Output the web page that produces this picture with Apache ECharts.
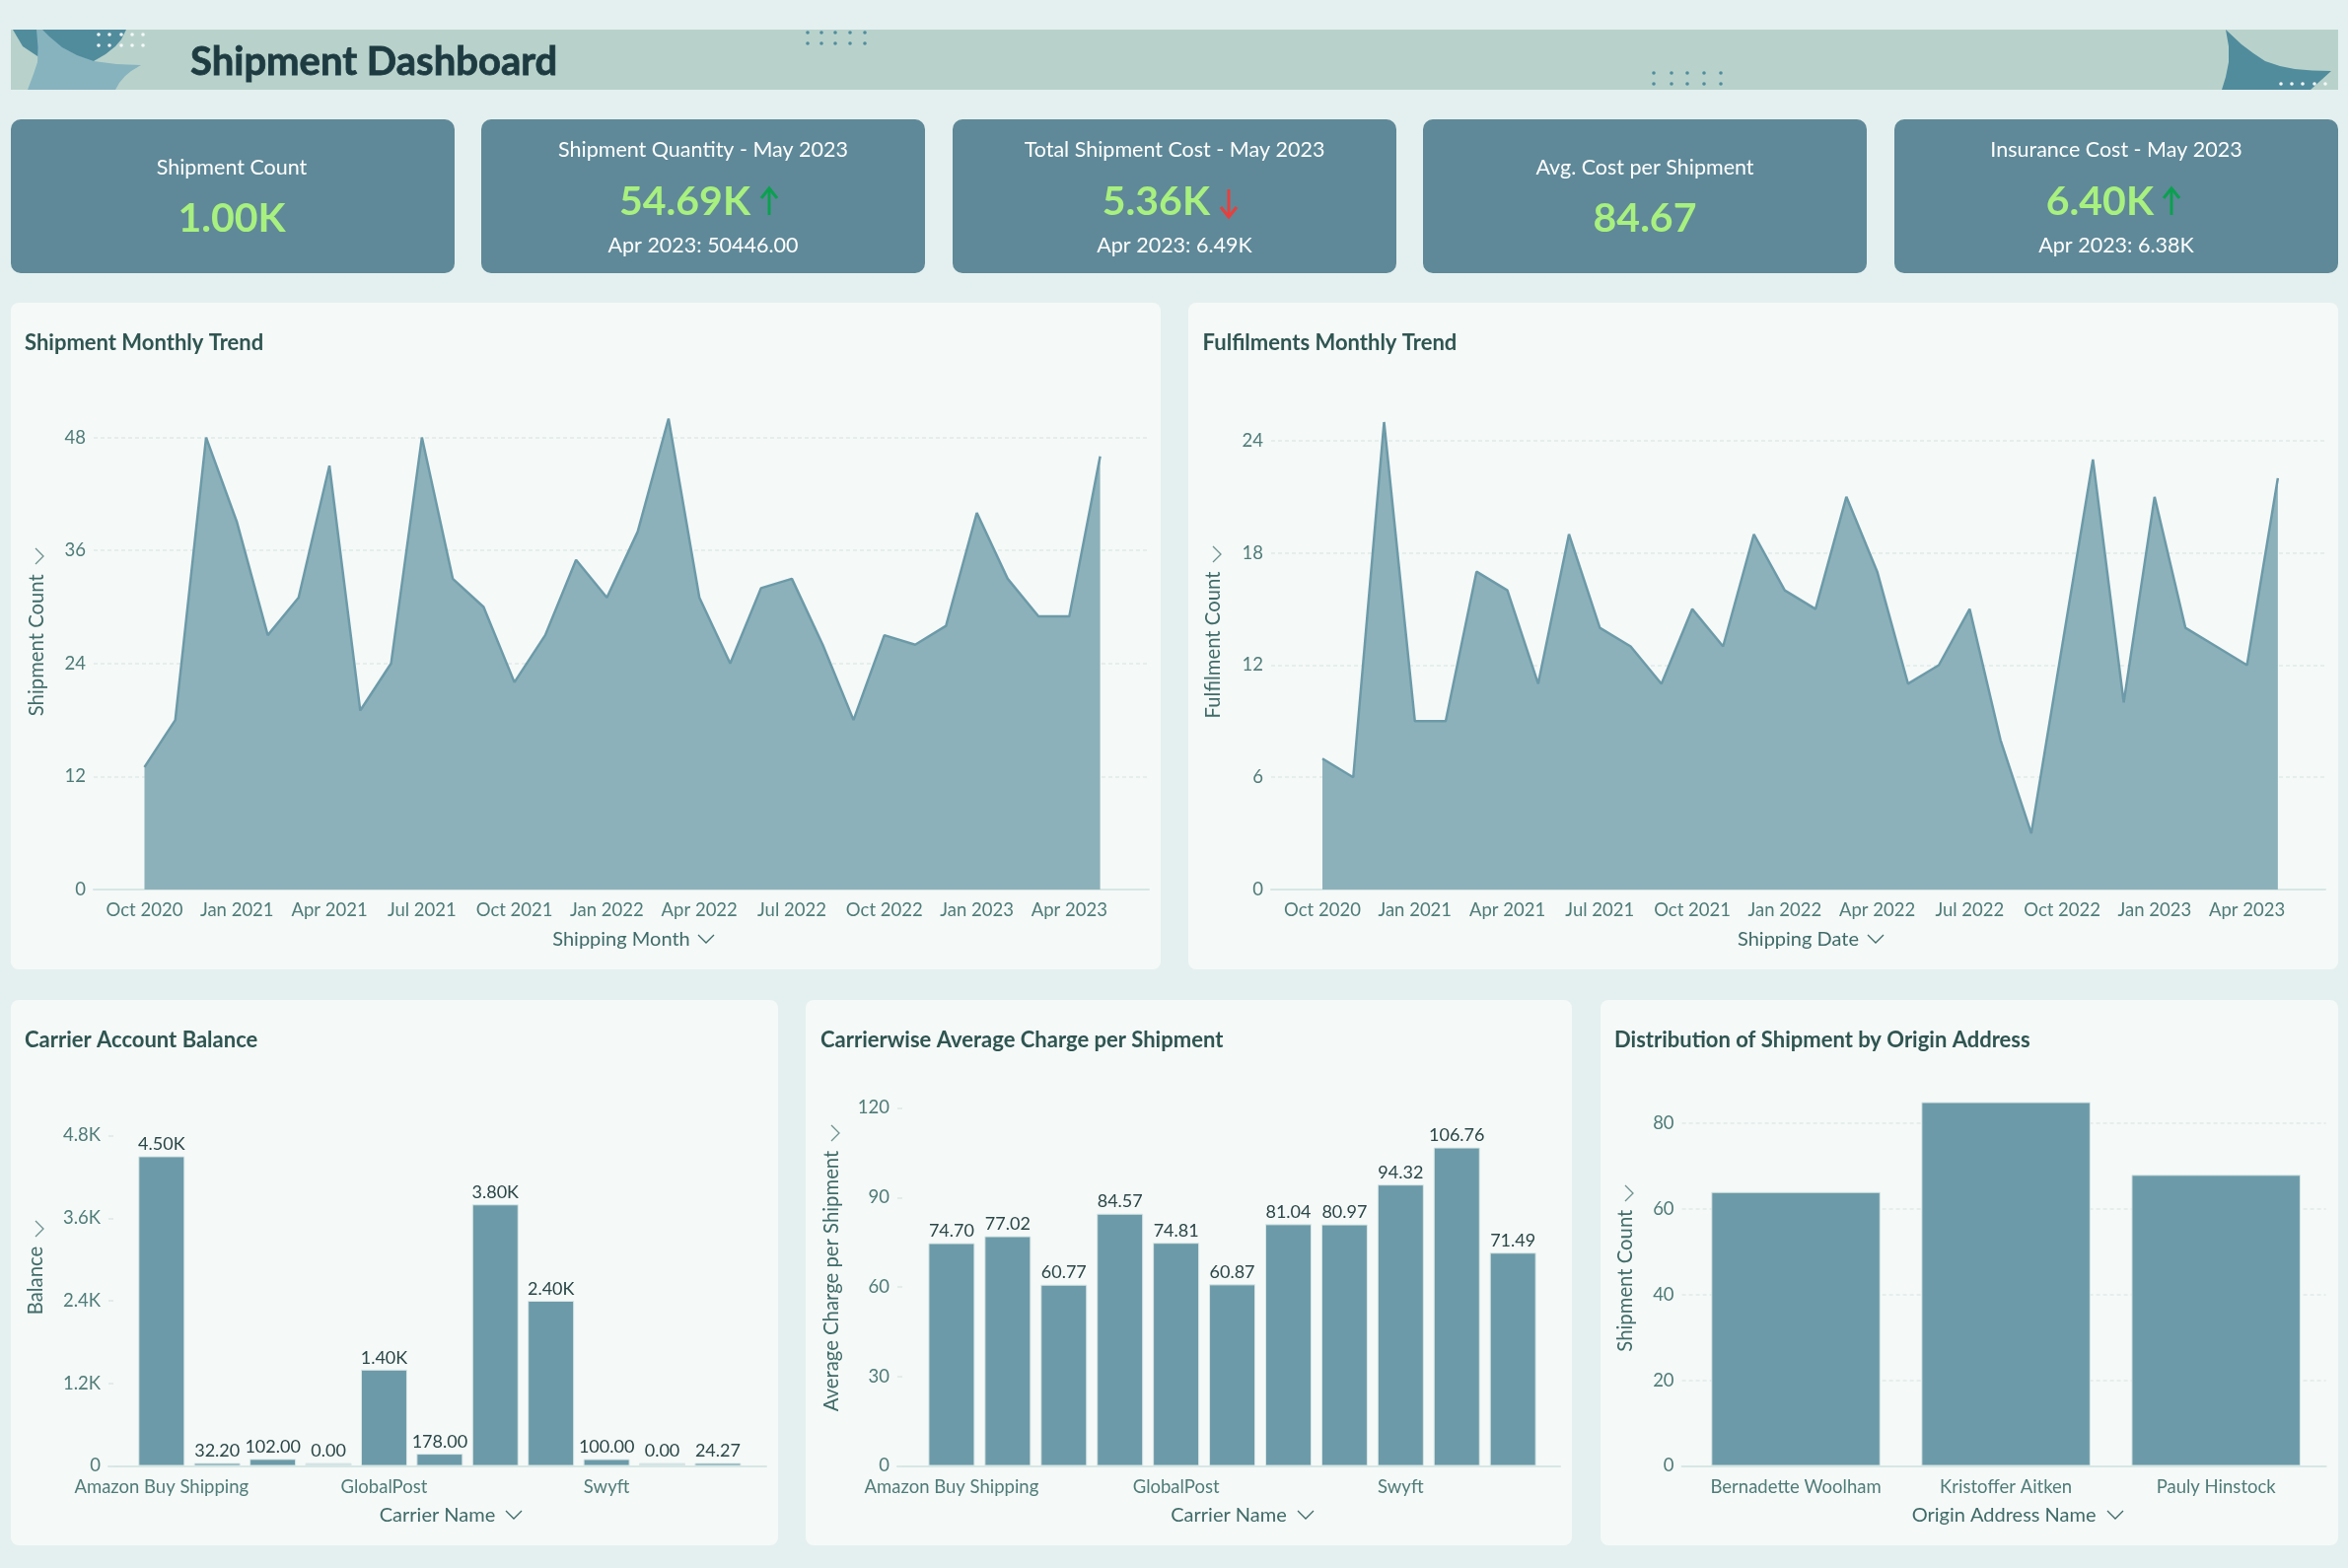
<!DOCTYPE html>
<html><head><meta charset="utf-8">
<style>html,body{margin:0;padding:0;background:#E4F0EF}#c{width:2381px;height:1590px}</style>
<script src="https://cdn.jsdelivr.net/npm/echarts@6/dist/echarts.min.js"></script>
</head><body><div id="c"></div>
<script>
const months = ["Oct 2020","Nov 2020","Dec 2020","Jan 2021","Feb 2021","Mar 2021","Apr 2021","May 2021","Jun 2021","Jul 2021","Aug 2021","Sep 2021","Oct 2021","Nov 2021","Dec 2021","Jan 2022","Feb 2022","Mar 2022","Apr 2022","May 2022","Jun 2022","Jul 2022","Aug 2022","Sep 2022","Oct 2022","Nov 2022","Dec 2022","Jan 2023","Feb 2023","Mar 2023","Apr 2023","May 2023"];
const shipmentCounts = [13,18,48,39,27,31,45,19,24,48,33,30,22,27,35,31,38,50,31,24,32,33,26,18,27,26,28,40,33,29,29,46];
const fulfilmentCounts = [7,6,25,9,9,17,16,11,19,14,13,11,15,13,19,16,15,21,17,11,12,15,8,3,13,23,10,21,14,13,12,22];
const carrierTicks = ["Amazon Buy Shipping","","","","GlobalPost","","","","Swyft","",""];
const balances = [4500,32.2,102,0,1400,178,3800,2400,100,0,24.27];
const avgCharges = [74.70,77.02,60.77,84.57,74.81,60.87,81.04,80.97,94.32,106.76,71.49];
const origins = ["Bernadette Woolham","Kristoffer Aitken","Pauly Hinstock"];
const originCounts = [64,85,68];
const monthTickIdx = [0,3,6,9,12,15,18,21,24,27,30];
const carrierTickIdx = [0,4,8];
const originTickIdx = [0,1,2];

const FONT='Lato';
const C={bg:'#E4F0EF',banner:'#B8D2CB',card:'#5F8998',panel:'#F5F9F8',bar:'#6C9AA8',area:'#8DB1BA',line:'#6C9AA8',title:'#2F5551',tick:'#4F7C78',name:'#3F6B68',val:'#2B4747',axis:'#D6E7E4',grid:'#E0EAE8',green:'#A8F07F',up:'#0CA050',down:'#E5403F'};

function rr(x,y,w,h,fill,r){return {type:'rect',z:-2,shape:{x,y,width:w,height:h,r:r||0},style:{fill},silent:true};}
function poly(points,fill){return {type:'polygon',z:-1,shape:{points},style:{fill},silent:true};}
function txt(text,x,y,size,fill,weight,align,stroke){return {type:'text',z:3,x,y,style:Object.assign({text,x:0,y:0,fill,font:(weight||'400')+' '+size+'px '+FONT,textAlign:align||'center',textVerticalAlign:'middle'},stroke?{stroke:fill,lineWidth:stroke}:{}),silent:true};}
function pl(points,color,w){return {type:'polyline',z:3,shape:{points},style:{stroke:color,lineWidth:w||1.5,fill:null},silent:true};}
function chevR(x,y){return pl([[x-4,y-8],[x+4,y],[x-4,y+8]],'#6E918E',1.3);}
function chevD(x,y){return pl([[x-8,y-4],[x,y+4],[x+8,y-4]],'#3F6B68',1.3);}
function arrowUp(x,y0,y1,c){return [pl([[x,y1],[x,y0]],c,3),pl([[x-8,y0+10],[x,y0],[x+8,y0+10]],c,3)];}
function arrowDown(x,y0,y1,c){return [pl([[x,y0],[x,y1]],c,3),pl([[x-8,y1-10],[x,y1],[x+8,y1-10]],c,3)];}
function dots(xs,y,c){return xs.map(x=>({type:'circle',z:-1,shape:{cx:x,cy:y,r:1.8},style:{fill:c},silent:true}));}

const g=[];
// banner
g.push(rr(11,30,2360,61,C.banner));
g.push(poly([[13,30],[128,30],[123,40],[117,47],[107,55],[95,62],[70,66],[38,57],[23,47]],'#518C9D'));
g.push(poly([[37,30],[43,30],[50,37],[63,48],[78,56],[95,62],[118,65],[143,66],[133,72],[127,77],[121,84],[117,91],[28,91],[34,75],[38,63],[38.5,48]],'#87B3BF'));
g.push(poly([[2257,30],[2273,45],[2285,54],[2297,62],[2312,67],[2327,70],[2345,71.5],[2364,72],[2343,91],[2253,91],[2257,78],[2260,63],[2260,47]],'#518C9D'));
[35,46].forEach(y=>g.push(...dots([100,111,123,134,145],y,'#F3F8F8')));
[33,44].forEach(y=>g.push(...dots([819,833,847,862,877],y,'#518C9D')));
[74,85].forEach(y=>g.push(...dots([1677,1695,1711,1728,1745],y,'#518C9D')));
g.push(...dots([2313,2324,2335,2347,2358],85,'#F3F8F8'));
g.push(txt('Shipment Dashboard',193,63,40,'#1E3B42','700','left',0.8));
// KPI cards
[[11,235],[488,713],[966,1191],[1443,1668],[1921,2146]].forEach(a=>g.push(rr(a[0],121,450,156,C.card,10)));
const KT=21.5, KV=41;
g.push(txt('Shipment Count',235,170,KT,'#FFFFFF'));
g.push(txt('1.00K',235,222,KV,C.green,'700'));
g.push(txt('Shipment Quantity - May 2023',713,152,KT,'#FFFFFF'));
g.push(txt('54.69K',761,205,KV,C.green,'700','right'));
g.push(...arrowUp(780,191,218,C.up));
g.push(txt('Apr 2023: 50446.00',713,249,KT,'#FFFFFF'));
g.push(txt('Total Shipment Cost - May 2023',1191,152,KT,'#FFFFFF'));
g.push(txt('5.36K',1227,205,KV,C.green,'700','right'));
g.push(...arrowDown(1246,192,220,C.down));
g.push(txt('Apr 2023: 6.49K',1191,249,KT,'#FFFFFF'));
g.push(txt('Avg. Cost per Shipment',1668,170,KT,'#FFFFFF'));
g.push(txt('84.67',1668,222,KV,C.green,'700'));
g.push(txt('Insurance Cost - May 2023',2146,152,KT,'#FFFFFF'));
g.push(txt('6.40K',2184,205,KV,C.green,'700','right'));
g.push(...arrowUp(2202,191,218,C.up));
g.push(txt('Apr 2023: 6.38K',2146,249,KT,'#FFFFFF'));
// panels
g.push(rr(11,307,1166,676,C.panel,8), rr(1205,307,1166,676,C.panel,8));
g.push(rr(11,1014,778,553,C.panel,8), rr(817,1014,777,553,C.panel,8), rr(1623,1014,748,553,C.panel,8));
// chevrons
g.push(chevR(40,564),chevD(716,952),chevR(1234,562),chevD(1902,952),chevR(40,1246),chevD(521,1536),chevR(847,1149),chevD(1324,1536),chevR(1652,1210),chevD(2145,1536));

const titles=[['Shipment Monthly Trend',25,350],['Fulfilments Monthly Trend',1219.6,350],['Carrier Account Balance',25,1056.5],['Carrierwise Average Charge per Shipment',832,1056.5],['Distribution of Shipment by Origin Address',1637,1056.5]];

const panels=[
 {left:95,right:1165,top:424.5,bottom:902,xmin:-1.647,xmax:32.58,ymax:50,step:12,labels:months,ticks:monthTickIdx,xname:'Shipping Month',yname:'Shipment Count',gap:48,pad:[0,0,0,18],data:shipmentCounts,kind:'area',xgap:41,grid:true,lp:3},
 {left:1289,right:2358,top:428,bottom:902,xmin:-1.664,xmax:32.54,ymax:25,step:6,labels:months,ticks:monthTickIdx,xname:'Shipping Date',yname:'Fulfilment Count',gap:48.5,pad:[0,0,0,22],data:fulfilmentCounts,kind:'area',xgap:41,grid:true,lp:3},
 {left:110,right:777,top:1151.5,bottom:1486.5,xmin:-0.954,xmax:10.87,ymax:4800,step:1200,labels:carrierTicks,ticks:carrierTickIdx,xname:'Carrier Name',yname:'Balance',gap:64,pad:[0,0,0,41],data:balances,kind:'bar',bw:47,lab:true,ykf:true,xgap:40,minH:3,lp:5},
 {left:910,right:1582,top:1123.5,bottom:1486.5,xmin:-0.965,xmax:10.84,ymax:120,step:30,labels:carrierTicks,ticks:carrierTickIdx,xname:'Carrier Name',yname:'Average Charge per Shipment',gap:57,pad:[0,0,0,12],data:avgCharges,kind:'bar',bw:47,lab:true,xgap:40,lp:5},
 {left:1705.6,right:2358.6,top:1095.8,bottom:1486.5,xmin:-0.542,xmax:2.523,ymax:90,step:20,labels:origins,ticks:originTickIdx,xname:'Origin Address Name',yname:'Shipment Count',gap:47.6,pad:[0,15,0,0],data:originCounts,kind:'bar',bw:171.5,xgap:40,grid:true,lp:4}
];
const fmtVal=v=>v>=1000?(v/1000).toFixed(2)+'K':v.toFixed(2);

const option={
 animation:false,
 backgroundColor:C.bg,
 graphic:{elements:g},
 title:titles.map(t=>({text:t[0],left:t[1],top:t[2]-13,padding:0,textStyle:{fontFamily:FONT,fontSize:22,fontWeight:700,color:C.title}})),
 grid:panels.map(p=>({left:p.left,top:p.top,width:p.right-p.left,height:p.bottom-p.top,containLabel:false})),
 xAxis:panels.map((p,i)=>({
   gridIndex:i,type:'value',min:p.xmin,max:p.xmax,
   name:p.xname,nameLocation:'middle',nameGap:p.xgap,
   nameTextStyle:{fontFamily:FONT,fontSize:20,color:C.name},
   axisLine:{show:true,onZero:false,lineStyle:{color:C.axis,width:2}},
   axisTick:{show:false},splitLine:{show:false},
   axisLabel:{customValues:p.ticks,formatter:v=>p.labels[v],fontFamily:FONT,fontSize:18.5,color:C.tick,margin:12,hideOverlap:false,showMinLabel:true,showMaxLabel:true}
 })),
 yAxis:panels.map((p,i)=>({
   gridIndex:i,type:'value',min:0,max:p.ymax,interval:p.step,
   name:p.yname,nameLocation:'middle',nameGap:p.gap,
   nameTextStyle:{fontFamily:FONT,fontSize:20.3,color:C.name,padding:p.pad},
   axisLine:{show:false,onZero:false},
   axisTick:{show:!p.grid,inside:true,length:5,lineStyle:{color:'#DCE8E5',width:1.5}},
   splitLine:{show:!!p.grid,showMaxLine:false,showMinLine:false,lineStyle:{color:C.grid,type:[4,3],width:1.5}},
   axisLabel:{fontFamily:FONT,fontSize:18.5,color:C.tick,margin:8,showMaxLabel:p.ymax%p.step===0,padding:[p.lp,0,0,0],formatter:v=>p.ykf&&v?(v/1000).toFixed(1)+'K':String(v)}
 })),
 series:panels.map((p,i)=>p.kind==='area'?{
   type:'line',xAxisIndex:i,yAxisIndex:i,symbol:'none',smooth:false,
   data:p.data.map((v,k)=>[k,v]),
   lineStyle:{color:C.line,width:2.5},areaStyle:{color:C.area,opacity:1}
 }:{
   type:'bar',xAxisIndex:i,yAxisIndex:i,barWidth:p.bw,barMinHeight:p.minH||0,
   data:p.data.map((v,k)=>[k,v]),
   itemStyle:{color:o=>o.value[1]===0?'#CFE0E1':C.bar,borderColor:'#D9E7E6',borderWidth:1},
   label:{show:!!p.lab,position:'top',distance:3,fontFamily:FONT,fontSize:18,color:C.val,formatter:o=>fmtVal(o.value[1])}
 })
};
echarts.init(document.getElementById('c'),null,{width:2381,height:1590}).setOption(option);
</script></body></html>
